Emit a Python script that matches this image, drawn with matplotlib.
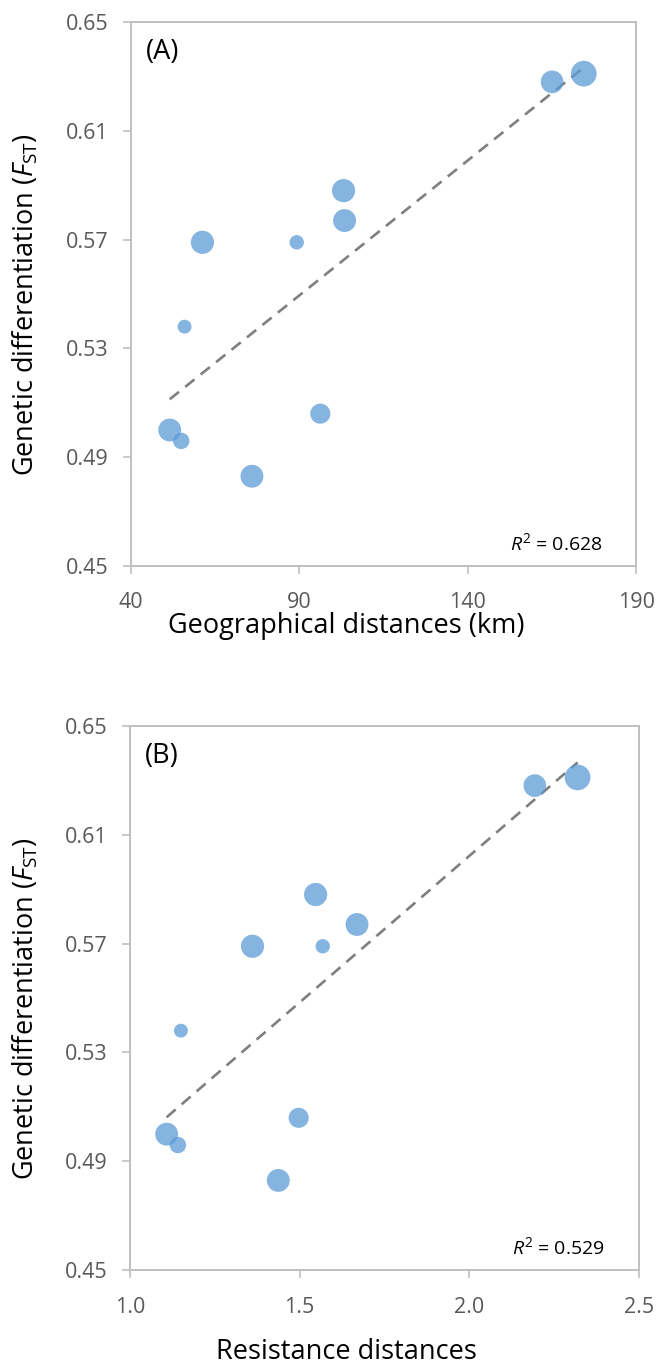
import numpy as np
import matplotlib
matplotlib.use("Agg")
import matplotlib.pyplot as plt

plt.rcParams['font.family'] = ['Open Sans', 'DejaVu Sans']
plt.rcParams['mathtext.fontset'] = 'custom'
plt.rcParams['mathtext.rm'] = 'Open Sans'
plt.rcParams['mathtext.it'] = 'Open Sans:italic'

# ---- data ----
fst = [0.631, 0.628, 0.588, 0.577, 0.569, 0.569, 0.538, 0.506, 0.500, 0.496, 0.483]
geo_km = [174.4, 165.0, 103.1, 103.4, 61.2, 89.2, 55.9, 96.2, 51.5, 54.9, 75.9]
resist = [2.319, 2.193, 1.547, 1.669, 1.361, 1.568, 1.150, 1.497, 1.108, 1.141, 1.437]
bubble_weight = [144, 112, 117, 114, 117, 45, 42, 88, 114, 59, 114]
r2_geo = "0.628"
r2_res = "0.529"
yticks = [0.45, 0.49, 0.53, 0.57, 0.61, 0.65]
xticks_geo = [40, 90, 140, 190]
xticks_res = [1.0, 1.5, 2.0, 2.5]

W, H = 660, 1368
fig = plt.figure(figsize=(W / 100, H / 100), dpi=100)

def make_panel(box, x, xticks, xfmt, xlabel, xlab_off, tag, r2):
    l, t, r, b = box
    ax = fig.add_axes([l / W, 1 - b / H, (r - l) / W, (b - t) / H])
    aw, ah = r - l, b - t
    x = np.asarray(x)
    y = np.asarray(fst)
    s = np.asarray(bubble_weight) * 2.07 * 1.15
    ax.scatter(x, y, s=s, color='#5B9BD5', alpha=0.75, edgecolors='none', zorder=3)
    k, c = np.polyfit(x, y, 1)
    xx = np.array([x.min(), x.max()])
    ax.plot(xx, k * xx + c, ls=(0, (4.5, 3)), color='#7F7F7F', lw=1.9, zorder=2)
    ax.set_xlim(xticks[0], xticks[-1])
    ax.set_ylim(yticks[0], yticks[-1])
    ax.set_xticks(xticks)
    ax.set_xticklabels([xfmt(v) for v in xticks])
    ax.set_yticks(yticks)
    ax.set_yticklabels([f"{v:.2f}" for v in yticks])
    for sp in ax.spines.values():
        sp.set_color('#C0C0C0')
        sp.set_linewidth(1.4)
    ax.tick_params(axis='both', colors='#C0C0C0', length=6, width=1.2,
                   labelcolor='#595959', labelsize=15.5)
    ax.tick_params(axis='x', pad=13)
    ax.tick_params(axis='y', pad=10)
    ax.set_xlabel(xlabel, fontsize=19.5, color='black')
    ax.xaxis.set_label_coords((346 - l) / aw, -xlab_off / ah)
    ax.xaxis.label.set_va('center')
    ax.set_ylabel(r'Genetic differentiation ($\mathit{F}_{\mathrm{ST}}$)',
                  fontsize=19.5, color='black')
    ax.yaxis.set_label_coords(-(l - 26) / aw, 1 - 283 / ah)
    ax.yaxis.label.set_va('center')
    ax.text(15 / aw, 1 - 37 / ah, tag, transform=ax.transAxes, fontsize=19.5,
            ha='left', va='baseline', color='black')
    ax.text(1 - 34 / aw, 16 / ah, r'$\mathit{R}^2$ = ' + r2, transform=ax.transAxes,
            fontsize=14, ha='right', va='baseline', color='black')
    return ax

make_panel((131, 22, 636.3, 566),
           geo_km, xticks_geo, lambda v: f"{v:d}", 'Geographical distances (km)', 60, '(A)', r2_geo)
make_panel((130, 725.7, 639, 1270.3),
           resist, xticks_res, lambda v: f"{v:.1f}", 'Resistance distances', 82, '(B)', r2_res)

fig.savefig('out.png', dpi=100)
